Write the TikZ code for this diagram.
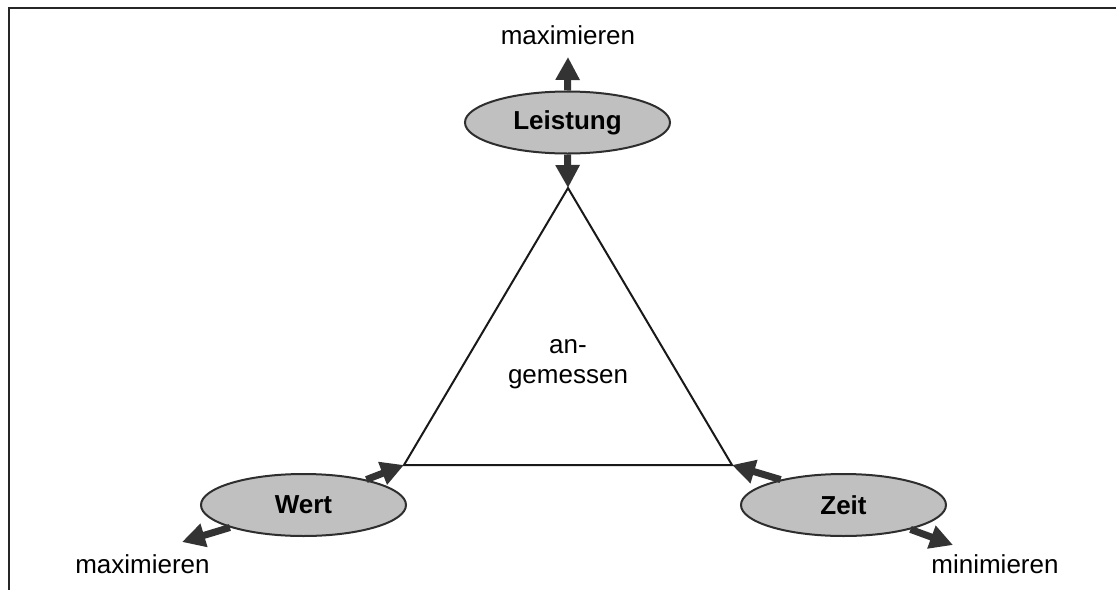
\documentclass[tikz,border=0pt]{standalone}
\usepackage{fontspec}
\setmainfont{Liberation Sans}
\usetikzlibrary{shapes.geometric,arrows.meta}
\definecolor{arrowgray}{HTML}{333333}
\definecolor{fillgray}{HTML}{C0C0C0}
\definecolor{edgegray}{HTML}{2E2E2E}
\tikzset{
  goal/.style={ellipse, draw=edgegray, fill=fillgray, line width=1pt,
    minimum width=102.5pt, minimum height=31pt, inner sep=0pt,
    font=\fontsize{13}{15.6}\selectfont\bfseries},
  label/.style={anchor=base, inner sep=0pt, font=\fontsize{13}{15.6}\selectfont},
  bigarrow/.style={draw=arrowgray, line width=3.5pt,
    -{Triangle[length=11.5pt, width=11.5pt]}, arrowgray, shorten <=0pt},
  side/.style={draw=black!90, line width=1pt, line join=miter}
}
\begin{document}
\begin{tikzpicture}[x=0.5pt, y=-0.5pt]
  \useasboundingbox (0,0) rectangle (1116,590);
  % frame (open at right and bottom)
  \draw[line width=1.25pt, black!85] (9,590) -- (9,8) -- (1116,8);

  % triangle corners
  \coordinate (apex) at (568,188);
  \coordinate (bl) at (404,465);
  \coordinate (br) at (732,465);
  \draw[side] (apex) -- (bl) -- (br) -- cycle;

  % goal ellipses
  \node[goal] (leistung) at (567.5,122.5) {Leistung};
  \node[goal] (wert) at (303.5,505) {Wert};
  \node[goal] (zeit) at (843.5,505) {Zeit};

  % outer ends of the arrows
  \coordinate (uptip) at (568,57);
  \coordinate (wtip) at (182,542);
  \coordinate (ztip) at (953,545);

  \draw[bigarrow] (leistung.north) -- (uptip);
  \draw[bigarrow] (leistung.south) -- (apex);
  \draw[bigarrow] (wert.22) -- (bl);
  \draw[bigarrow] (wert.197) -- (wtip);
  \draw[bigarrow] (zeit.158) -- (br);
  \draw[bigarrow] (zeit.-20) -- (ztip);

  % labels
  \node[label] (topmax) at (568,44) {maximieren};
  \node[label] (leftmax) at (142.5,573) {maximieren};
  \node[label] (rightmin) at (995,573) {minimieren};
  \node[label] (an) at (568,353) {an-};
  \node[label] (gem) at (568,383) {gemessen};
\end{tikzpicture}
\end{document}
